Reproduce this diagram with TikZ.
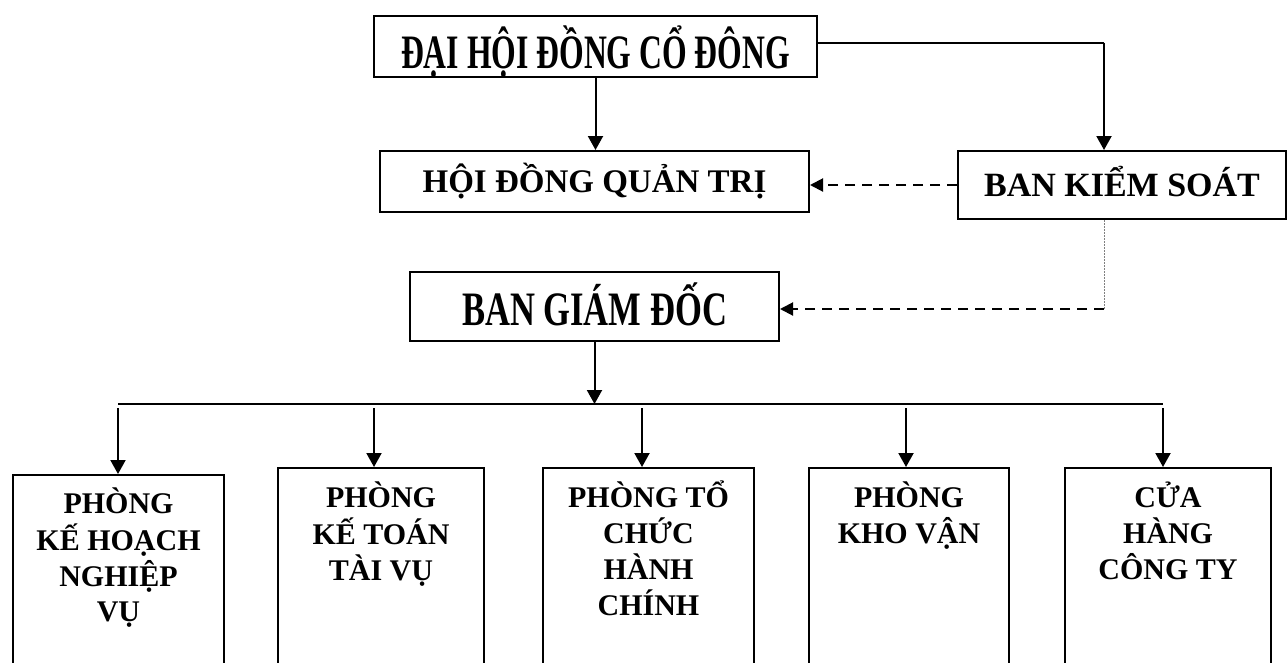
\documentclass[tikz,border=0pt]{standalone}
\usepackage{fontspec}
\setmainfont{Liberation Serif}
\usetikzlibrary{arrows.meta,calc}
\begin{document}
\begin{tikzpicture}[x=1pt,y=-1pt,
  hbox/.style={draw=black,line width=2pt,inner sep=0pt,text depth=0pt},
  conn/.style={line width=2pt},
  arr/.style={conn,-{Triangle[length=14pt,width=15pt]}},
  darr/.style={line width=2pt,dash pattern=on 10pt off 7pt,-{Triangle[length=13pt,width=13pt]}},
  dotline/.style={line width=1pt,draw=gray,dash pattern=on 1.5pt off 1.5pt},
  child/.style={draw=black,line width=2pt,inner sep=0pt,anchor=north west},
  ctext/.style={anchor=base,inner sep=0pt,font=\fontsize{30}{35}\selectfont\bfseries}
]
\useasboundingbox (0,0) rectangle (1288,662);
\clip (0,0) rectangle (1288,662);

% heading boxes
\node[hbox,minimum width=443,minimum height=61,text height=43pt,font=\fontsize{48}{56}\selectfont\bfseries] (d) at (595.5,46.5) {\scalebox{0.66}[1]{ĐẠI HỘI ĐỒNG CỔ ĐÔNG}};
\node[hbox,minimum width=429,minimum height=61,text height=21pt,font=\fontsize{33}{39}\selectfont\bfseries] (h) at (594.5,181.5) {HỘI ĐỒNG QUẢN TRỊ};
\node[hbox,minimum width=328,minimum height=68,text height=22.5pt,font=\fontsize{34}{40}\selectfont\bfseries] (k) at (1122,185) {BAN KIỂM SOÁT};
\node[hbox,minimum width=369,minimum height=69,text height=37pt,font=\fontsize{48}{56}\selectfont\bfseries] (g) at (594.5,306.5) {\scalebox{0.72}[1]{BAN GIÁM ĐỐC}};

% child boxes
\node[child,minimum width=211,minimum height=230] (c1) at (12,474) {};
\node[child,minimum width=206,minimum height=230] (c2) at (277,467) {};
\node[child,minimum width=211,minimum height=230] (c3) at (542,467) {};
\node[child,minimum width=200,minimum height=230] (c4) at (808,467) {};
\node[child,minimum width=206,minimum height=230] (c5) at (1064,467) {};

\node[ctext] (t1) at ($(c1.north)+(0,39)$) {\begin{tabular}[t]{@{}c@{}}PHÒNG\\KẾ HOẠCH\\NGHIỆP\\VỤ\end{tabular}};
\node[ctext] (t2) at ($(c2.north)+(0,40)$) {\begin{tabular}[t]{@{}c@{}}PHÒNG\\KẾ TOÁN\\TÀI VỤ\end{tabular}};
\node[ctext] (t3) at ($(c3.north)+(0,40)$) {\begin{tabular}[t]{@{}c@{}}PHÒNG TỔ\\CHỨC\\HÀNH\\CHÍNH\end{tabular}};
\node[ctext] (t4) at ($(c4.north)+(0,40)$) {\begin{tabular}[t]{@{}c@{}}PHÒNG\\KHO VẬN\end{tabular}};
\node[ctext] (t5) at ($(c5.north)+(0,40)$) {\begin{tabular}[t]{@{}c@{}}CỬA\\HÀNG\\CÔNG TY\end{tabular}};

% bus
\coordinate (b1) at (118,404);
\coordinate (b2) at (374,404);
\coordinate (b3) at (642,404);
\coordinate (b4) at (906,404);
\coordinate (b5) at (1163,404);
\draw[conn] (b1) -- (b5);
\foreach \i in {1,...,5}{
  \draw[arr] ([yshift=-4pt]b\i) -- (b\i |- c\i.north);
}

% connectors
\coordinate (cr) at (1104,309);
\draw[arr] (d.south) -- (d.south |- h.north);
\draw[conn] (d.east) ++(0,-4) coordinate (de) -- (de -| cr);
\draw[arr] (de -| cr) -- (cr |- k.north);
\draw[darr] (k.west) -- (k.west -| h.east);
\draw[dotline] (cr |- k.south) -- (cr);
\draw[darr] (cr) -- (cr -| g.east);
\draw[arr] (g.south) -- (g.south |- b1);
\end{tikzpicture}
\end{document}
